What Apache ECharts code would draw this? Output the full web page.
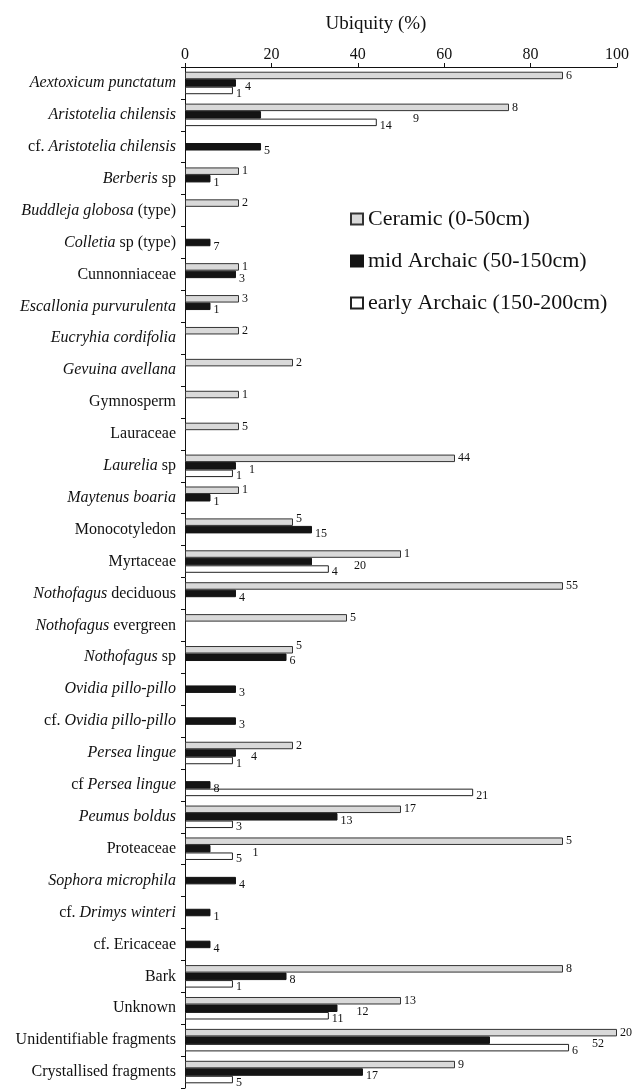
<!DOCTYPE html>
<html>
<head>
<meta charset="utf-8">
<script src="https://cdn.jsdelivr.net/npm/echarts@6/dist/echarts.min.js"></script>
<style>
html,body{margin:0;padding:0;background:#fff;}
#chart{width:644px;height:1089px;}
</style>
</head>
<body>
<div id="chart"></div>
<script>
// Categories (text between * is italic)
const categories = [
  "*Aextoxicum punctatum*", "*Aristotelia chilensis*", "cf. *Aristotelia chilensis*", "*Berberis* sp",
  "*Buddleja globosa* (type)", "*Colletia* sp (type)", "Cunnonniaceae", "*Escallonia purvurulenta*",
  "*Eucryhia cordifolia*", "*Gevuina avellana*", "Gymnosperm", "Lauraceae",
  "*Laurelia* sp", "*Maytenus boaria*", "Monocotyledon", "Myrtaceae",
  "*Nothofagus* deciduous", "*Nothofagus* evergreen", "*Nothofagus* sp", "*Ovidia pillo-pillo*",
  "cf. *Ovidia pillo-pillo*", "*Persea lingue*", "cf *Persea lingue*", "*Peumus boldus*",
  "Proteaceae", "*Sophora microphila*", "cf. *Drimys winteri*", "cf. Ericaceae",
  "Bark", "Unknown", "Unidentifiable fragments", "Crystallised fragments"
];
const seriesNames = ["Ceramic (0-50cm)", "mid Archaic (50-150cm)", "early Archaic (150-200cm)"];

// Ubiquity (%)
const ceramicValues = [87.5, 75, null, 12.5, 12.5, null, 12.5, 12.5, 12.5, 25, 12.5, 12.5, 62.5, 12.5, 25, 50,
  87.5, 37.5, 25, null, null, 25, null, 50, 87.5, null, null, null, 87.5, 50, 100, 62.5];
const midValues = [11.8, 17.6, 17.6, 5.9, null, 5.9, 11.8, 5.9, null, null, null, null, 11.8, 5.9, 29.4, 29.4,
  11.8, null, 23.5, 11.8, 11.8, 11.8, 5.9, 35.3, 5.9, 11.8, 5.9, 5.9, 23.5, 35.3, 70.6, 41.2];
const earlyValues = [11.1, 44.4, null, null, null, null, null, null, null, null, null, null, 11.1, null, null, 33.3,
  null, null, null, null, null, 11.1, 66.7, 11.1, 11.1, null, null, null, 11.1, 33.3, 88.9, 11.1];

// Counts shown as bar labels
const ceramicCounts = [6, 8, null, 1, 2, null, 1, 3, 2, 2, 1, 5, 44, 1, 5, 1,
  55, 5, 5, null, null, 2, null, 17, 5, null, null, null, 8, 13, 20, 9];
const midCounts = [4, 9, 5, 1, null, 7, 3, 1, null, null, null, null, 1, 1, 15, 20,
  4, null, 6, 3, 3, 4, 8, 13, 1, 4, 1, 4, 8, 12, 52, 17];
const earlyCounts = [1, 14, null, null, null, null, null, null, null, null, null, null, 1, null, null, 4,
  null, null, null, null, null, 1, 21, 3, 5, null, null, null, 1, 11, 6, 5];

const xTicks = [0, 20, 40, 60, 80, 100];

// label placement tweaks (pixels), by category index
const midLabelShift = {0: 6, 1: 149, 12: 10, 15: 39, 21: 12, 24: 39, 29: 16, 30: 99};
const ceramicLabelShiftY = {14: -3, 18: -4};

function makeData(values, counts, baseDy, shiftX, shiftY) {
  return values.map((v, i) => {
    if (v == null) return null;
    const dx = (shiftX && shiftX[i]) || 0;
    const dy = baseDy + ((shiftY && shiftY[i]) || 0);
    return {value: v, count: counts[i], label: {offset: [dx, dy]}};
  });
}

const serif = "'Liberation Serif', 'DejaVu Serif', serif";
const labelCfg = {
  show: true, position: 'right', distance: 3,
  fontFamily: serif, fontSize: 12, color: '#111',
  formatter: p => (p.data && p.data.count != null) ? String(p.data.count) : ''
};

const chart = echarts.init(document.getElementById('chart'), null, {renderer: 'canvas'});
chart.setOption({
  animation: false,
  backgroundColor: '#fff',
  title: {
    text: 'Ubiquity (%)', left: 371, top: 10, textAlign: 'center',
    textStyle: {fontFamily: serif, fontSize: 19, fontWeight: 'normal', color: '#111'}
  },
  legend: {
    orient: 'vertical', left: 345, top: 203, itemGap: 20,
    itemWidth: 12, itemHeight: 11, icon: 'rect',
    textStyle: {fontFamily: serif, fontSize: 22, color: '#111'},
    data: seriesNames
  },
  grid: {left: 185, right: 27, top: 67, bottom: 1, containLabel: false},
  xAxis: {
    type: 'value', position: 'top', min: xTicks[0], max: xTicks[xTicks.length - 1], interval: 20,
    axisLine: {show: true, lineStyle: {color: '#111', width: 1}},
    axisTick: {show: true, length: 4, lineStyle: {color: '#111'}},
    axisLabel: {fontFamily: serif, fontSize: 16, color: '#111', margin: 4},
    splitLine: {show: false}
  },
  yAxis: {
    type: 'category', inverse: true, data: categories,
    axisLine: {show: true, lineStyle: {color: '#111', width: 1}},
    axisTick: {show: true, length: 4, lineStyle: {color: '#111'}},
    axisLabel: {
      margin: 9, color: '#111',
      formatter: s => s.split('*').map((part, i) => part ? (i % 2 ? '{i|' + part + '}' : '{n|' + part + '}') : '').join(''),
      rich: {
        n: {fontFamily: serif, fontSize: 16, color: '#111'},
        i: {fontFamily: serif, fontSize: 16, fontStyle: 'italic', color: '#111'}
      }
    }
  },
  series: [
    {
      name: seriesNames[0], type: 'bar', barWidth: 7.5, barGap: '0%',
      itemStyle: {color: '#d9d9d9', borderColor: '#333', borderWidth: 1},
      label: labelCfg,
      data: makeData(ceramicValues, ceramicCounts, 0, null, ceramicLabelShiftY)
    },
    {
      name: seriesNames[1], type: 'bar', barWidth: 7.5, barGap: '0%',
      itemStyle: {color: '#141414', borderColor: '#141414', borderWidth: 1},
      label: labelCfg,
      data: makeData(midValues, midCounts, 4, midLabelShift, null)
    },
    {
      name: seriesNames[2], type: 'bar', barWidth: 7.5, barGap: '0%',
      itemStyle: {color: '#ffffff', borderColor: '#222', borderWidth: 1},
      label: labelCfg,
      data: makeData(earlyValues, earlyCounts, 3, null, null)
    }
  ]
});
</script>
</body>
</html>
